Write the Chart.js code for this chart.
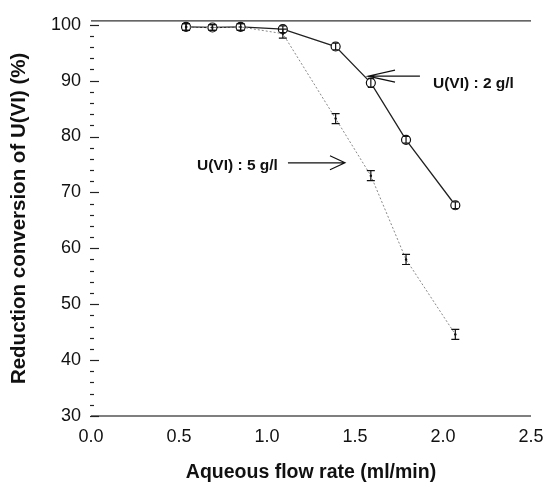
<!DOCTYPE html>
<html>
<head>
<meta charset="utf-8">
<script src="https://cdn.jsdelivr.net/npm/chart.js@4/dist/chart.umd.min.js"></script>
<style>
  html, body { margin: 0; padding: 0; background: #fff; }
  #wrap { width: 544px; height: 484px; position: relative; }
</style>
</head>
<body>
<div id="wrap"><canvas id="chart"></canvas></div>
<script>
// data
const flow2 = [0.54, 0.69, 0.85, 1.09, 1.39, 1.59, 1.79, 2.07];
const conv2 = [99.6, 99.5, 99.6, 99.2, 96.1, 89.6, 79.4, 67.7];
const err2  = [0.6, 0.5, 0.6, 0.6, 0.6, 0.8, 0.6, 0.6];

const flow5 = [0.54, 0.69, 0.85, 1.09, 1.39, 1.59, 1.79, 2.07];
const conv5 = [99.6, 99.5, 99.6, 98.4, 83.2, 73.0, 58.0, 44.6];
const err5  = [0.6, 0.5, 0.6, 0.8, 0.9, 0.9, 0.9, 0.9];

const xTicks = [0, 0.5, 1.0, 1.5, 2.0, 2.5];
const yTicks = [30, 40, 50, 60, 70, 80, 90, 100];

const FONT = '"Liberation Sans", Arial, sans-serif';

function toPoints(xs, ys) {
    return xs.map((x, i) => ({ x: x, y: ys[i] }));
}

// axes frame, inward ticks, error bars and the two labels with arrows
const decorations = {
    id: 'decorations',
    afterDatasetsDraw(chart) {
        const ctx = chart.ctx;
        const xs = chart.scales.x;
        const ys = chart.scales.y;
        const area = chart.chartArea;
        ctx.save();

        // top line and bottom axis
        ctx.strokeStyle = '#333';
        ctx.lineWidth = 1.3;
        ctx.beginPath();
        ctx.moveTo(area.left, area.top);
        ctx.lineTo(area.right, area.top);
        ctx.stroke();
        ctx.strokeStyle = '#555';
        ctx.beginPath();
        ctx.moveTo(area.left, area.bottom);
        ctx.lineTo(area.right, area.bottom);
        ctx.stroke();

        // y ticks pointing into the plot, every 2 units
        ctx.strokeStyle = '#222';
        ctx.lineWidth = 1.2;
        for (let v = 30; v <= 100; v += 2) {
            const py = Math.round(ys.getPixelForValue(v)) + 0.5;
            const len = (v % 10 === 0) ? 9 : 4;
            ctx.beginPath();
            ctx.moveTo(area.left - 1, py);
            ctx.lineTo(area.left - 1 + len, py);
            ctx.stroke();
        }

        // error bars
        const drawErr = (xsArr, ysArr, errs, cap) => {
            ctx.strokeStyle = '#111';
            ctx.lineWidth = 1.2;
            xsArr.forEach((x, i) => {
                const px = xs.getPixelForValue(x);
                const top = ys.getPixelForValue(ysArr[i] + errs[i]);
                const bot = ys.getPixelForValue(ysArr[i] - errs[i]);
                ctx.beginPath();
                ctx.moveTo(px, top); ctx.lineTo(px, bot);
                ctx.moveTo(px - cap, top); ctx.lineTo(px + cap, top);
                ctx.moveTo(px - cap, bot); ctx.lineTo(px + cap, bot);
                ctx.stroke();
            });
        };
        drawErr(flow5, conv5, err5, 4);
        drawErr(flow2, conv2, err2, 3);

        // labels
        ctx.fillStyle = '#111';
        ctx.font = 'bold 15.5px ' + FONT;
        ctx.textBaseline = 'middle';

        ctx.textAlign = 'left';
        ctx.fillText('U(VI) : 2 g/l', xs.getPixelForValue(1.943), ys.getPixelForValue(89.4));
        ctx.textAlign = 'right';
        ctx.fillText('U(VI) : 5 g/l', xs.getPixelForValue(1.062), ys.getPixelForValue(74.8));

        const arrow = (x1, y1, x2, y2, headLen, headHalf) => {
            const ax = xs.getPixelForValue(x1), ay = ys.getPixelForValue(y1);
            const bx = xs.getPixelForValue(x2), by = ys.getPixelForValue(y2);
            const dir = Math.sign(ax - bx);
            ctx.strokeStyle = '#111';
            ctx.lineWidth = 1.2;
            ctx.beginPath();
            ctx.moveTo(ax, ay); ctx.lineTo(bx, by);
            ctx.moveTo(bx + dir * headLen, by - headHalf); ctx.lineTo(bx, by);
            ctx.lineTo(bx + dir * headLen, by + headHalf);
            ctx.stroke();
        };
        arrow(1.869, 90.8, 1.574, 90.8, 27, 6);
        arrow(1.119, 75.3, 1.443, 75.3, 15, 7);

        ctx.restore();
    }
};

const ctx = document.getElementById('chart').getContext('2d');
new Chart(ctx, {
    type: 'scatter',
    data: {
        datasets: [
            {
                label: 'U(VI) : 5 g/l',
                data: toPoints(flow5, conv5),
                showLine: true,
                borderColor: '#888',
                borderWidth: 1,
                borderDash: [2, 2],
                pointRadius: 1.2,
                pointBackgroundColor: '#111',
                pointBorderColor: '#111',
                pointBorderWidth: 0
            },
            {
                label: 'U(VI) : 2 g/l',
                data: toPoints(flow2, conv2),
                showLine: true,
                borderColor: '#222',
                borderWidth: 1.3,
                pointRadius: 4.5,
                pointBackgroundColor: '#fff',
                pointBorderColor: '#111',
                pointBorderWidth: 1.2
            },
            {
                label: 'centres',
                data: toPoints(flow2, conv2),
                showLine: false,
                pointRadius: 1,
                pointBackgroundColor: '#111',
                pointBorderWidth: 0
            }
        ]
    },
    options: {
        responsive: true,
        maintainAspectRatio: false,
        animation: false,
        layout: { padding: { top: 16, right: 0, left: 0, bottom: 0 } },
        plugins: {
            legend: { display: false },
            tooltip: { enabled: false }
        },
        scales: {
            x: {
                type: 'linear',
                min: 0,
                max: 2.5,
                afterBuildTicks: (scale) => { scale.ticks = xTicks.map(v => ({ value: v })); },
                afterFit: (scale) => {
                    scale.height = 68;
                    scale.paddingRight = 13;
                    scale.paddingLeft = 0;
                },
                grid: { display: false, drawTicks: false },
                border: { display: false },
                ticks: {
                    padding: 10,
                    color: '#111',
                    font: { family: FONT, size: 18 },
                    callback: (v) => Number(v).toFixed(1)
                },
                title: {
                    display: true,
                    text: 'Aqueous flow rate (ml/min)',
                    color: '#111',
                    font: { family: FONT, size: 19.5, weight: 'bold' },
                    padding: { top: 4, bottom: 0 }
                }
            },
            y: {
                type: 'linear',
                min: 30,
                max: 100.7,
                afterBuildTicks: (scale) => { scale.ticks = yTicks.map(v => ({ value: v })); },
                afterFit: (scale) => { scale.width = 91; },
                grid: { display: false, drawTicks: false },
                border: { display: false },
                ticks: {
                    padding: 10,
                    color: '#111',
                    font: { family: FONT, size: 18 }
                },
                title: {
                    display: true,
                    text: 'Reduction conversion of U(VI) (%)',
                    color: '#111',
                    font: { family: FONT, size: 20.5, weight: 'bold' },
                    padding: { top: 7, bottom: 0 }
                }
            }
        }
    },
    plugins: [decorations]
});
</script>
</body>
</html>
